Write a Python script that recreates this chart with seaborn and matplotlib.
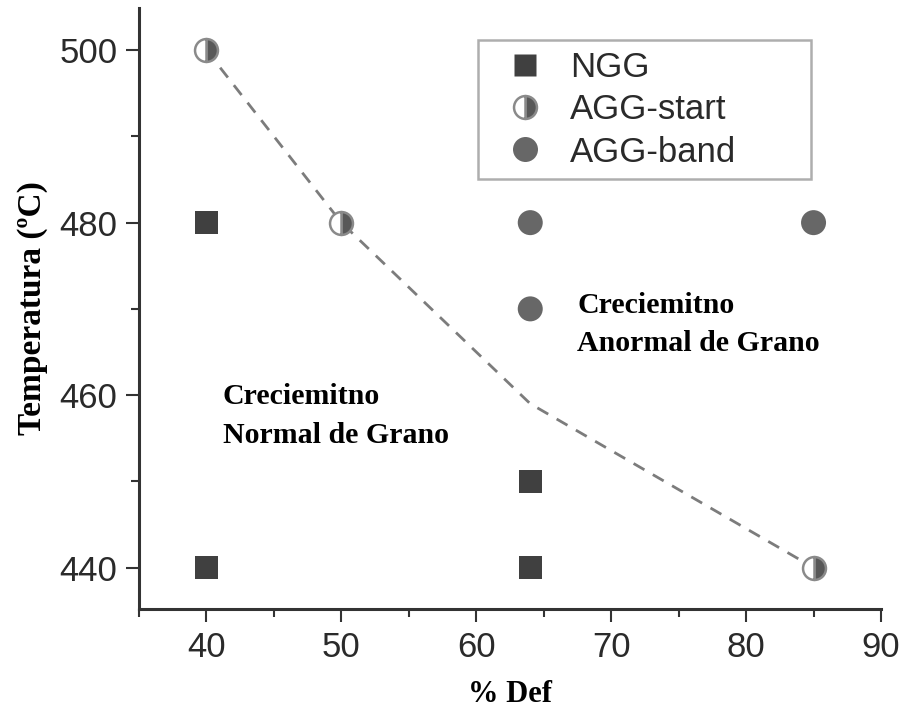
import matplotlib
matplotlib.use("Agg")
import matplotlib.pyplot as plt
import seaborn as sns
from matplotlib.lines import Line2D
from matplotlib.ticker import MultipleLocator

# ---- data ----
ngg_x = [40, 40, 64, 64]
ngg_y = [480, 440, 450, 440]
start_x = [40, 50, 85]
start_y = [500, 480, 440]
band_x = [64, 64, 85]
band_y = [480, 470, 480]
bound_x = [40, 50, 64, 85]
bound_y = [500, 480, 459, 440]
x_ticks = [40, 50, 60, 70, 80, 90]
y_ticks = [440, 460, 480, 500]
legend_labels = ["NGG", "AGG-start", "AGG-band"]
note_left = "Creciemitno\nNormal de Grano"
note_right = "Creciemitno\nAnormal de Grano"

sns.set_theme(style="ticks")
plt.rcParams["font.family"] = ["Liberation Sans", "DejaVu Sans"]

fig = plt.figure(figsize=(9.01, 7.13), dpi=100)
ax = fig.add_axes([0.1543, 0.1459, 0.8235, 0.843])

sns.lineplot(x=bound_x, y=bound_y, ax=ax, color="#7c7c7c", lw=2.0,
             linestyle=(0, (4.5, 3.5)), zorder=1, sort=False)
sns.scatterplot(x=ngg_x, y=ngg_y, ax=ax, marker="s", s=272, color="#404040",
                edgecolor="none", zorder=3)
sns.scatterplot(x=band_x, y=band_y, ax=ax, marker="o", s=324, color="#676767",
                edgecolor="none", zorder=3)
ax.plot(start_x, start_y, "o", ms=16.5, fillstyle="right", markerfacecolor="#585858",
        markerfacecoloralt="white", markeredgecolor="#8a8a8a", markeredgewidth=1.8,
        ls="none", zorder=3)

ax.set_xlim(35, 90)
ax.set_ylim(435.2, 504.9)
ax.set_xticks(x_ticks)
ax.set_yticks(y_ticks)
ax.xaxis.set_minor_locator(MultipleLocator(5))
ax.yaxis.set_minor_locator(MultipleLocator(10))
ax.tick_params(which="major", length=9.5, width=1.5, color="#333333",
               labelsize=25, labelcolor="#2a2a2a", pad=6)
ax.tick_params(which="minor", length=5.5, width=1.5, color="#333333")
for side in ["top", "right"]:
    ax.spines[side].set_visible(False)
for side in ["left", "bottom"]:
    ax.spines[side].set_linewidth(2.2)
    ax.spines[side].set_color("#333333")

ax.set_xlabel("% Def", fontfamily="Liberation Serif", fontweight="bold",
              fontsize=22, color="black", labelpad=12)
ax.set_ylabel("Temperatura (ºC)", fontfamily="Liberation Serif", fontweight="bold",
              fontsize=24, color="black", labelpad=8)

ax.text(41.2, 461.4, note_left, ha="left", va="top", fontfamily="Liberation Serif",
        fontweight="bold", fontsize=21.5, linespacing=1.55, color="black")
ax.text(67.5, 472.0, note_right, ha="left", va="top", fontfamily="Liberation Serif",
        fontweight="bold", fontsize=21.5, linespacing=1.55, color="black")

handles = [
    Line2D([], [], marker="s", ls="none", ms=16.5, color="#404040", mec="none"),
    Line2D([], [], marker="o", ls="none", ms=16.5, fillstyle="right",
           markerfacecolor="#585858", markerfacecoloralt="white",
           markeredgecolor="#8a8a8a", markeredgewidth=1.8),
    Line2D([], [], marker="o", ls="none", ms=18, color="#676767", mec="none"),
]
leg = ax.legend(handles, legend_labels, loc="upper left",
                bbox_to_anchor=(0.457, 0.724, 0.448, 0.222), mode="expand",
                borderaxespad=0, fontsize=25, frameon=True, fancybox=False,
                edgecolor="#9a9a9a", borderpad=0.3, handlelength=2.1,
                handletextpad=0.25, labelspacing=0.27)
leg.get_frame().set_linewidth(1.8)
for t in leg.get_texts():
    t.set_color("#2a2a2a")

fig.savefig("out.png", dpi=100)
